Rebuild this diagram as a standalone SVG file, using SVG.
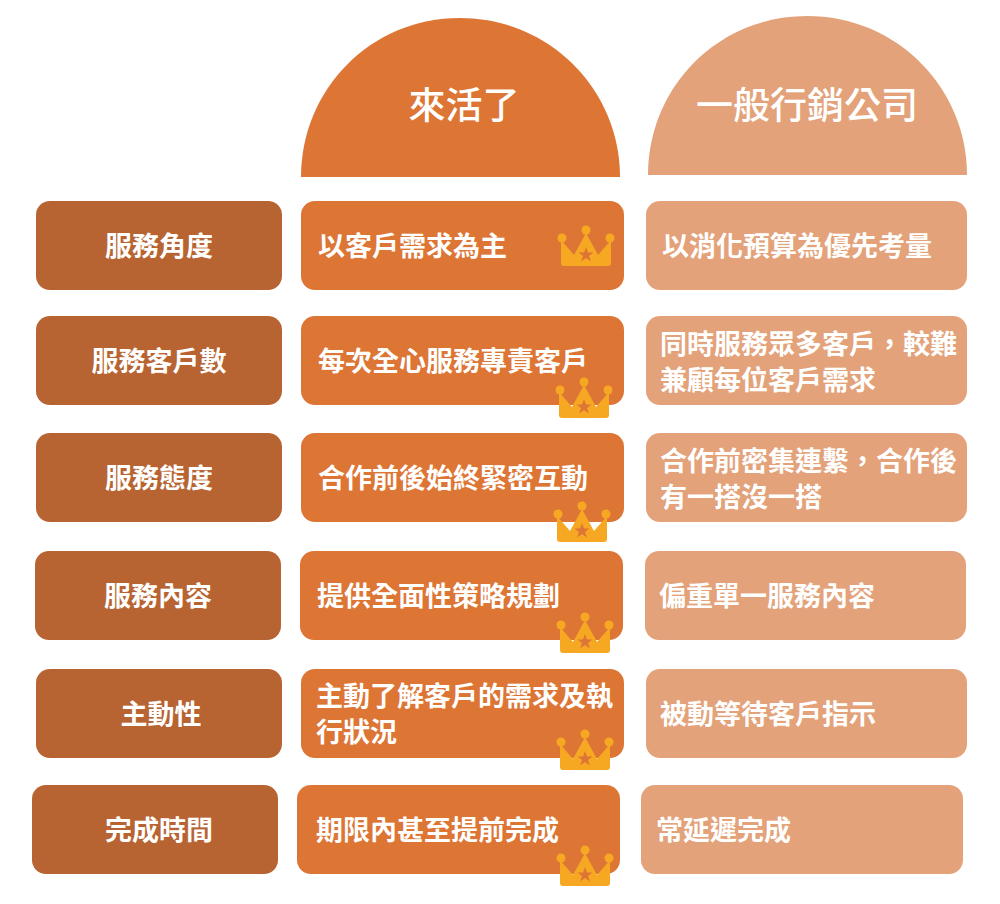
<svg xmlns="http://www.w3.org/2000/svg" xmlns:xlink="http://www.w3.org/1999/xlink" width="1000" height="904" viewBox="0 0 1000 904">
<style>
text{font-family:"Noto Sans CJK TC","Noto Sans CJK SC",sans-serif;fill:#fff;font-size:27px;font-weight:bold}
.lab{fill:#B76432}.mid{fill:#DD7535}.rt{fill:#E3A27A}
.c{text-anchor:middle}
.h{font-size:37px;font-weight:500;text-anchor:middle}
</style>
<defs>
<g id="crown">
<circle cx="5" cy="13" r="4.5" fill="#F7A823"/><circle cx="29" cy="5" r="4.5" fill="#F7A823"/><circle cx="53" cy="13" r="4.5" fill="#F7A823"/>
<path d="M4,15 L17,30 L29,8 L41,30 L54,15 L54,38 Q54,41 51,41 L7,41 Q4,41 4,38 Z" fill="#F7A823"/>
<polygon points="29,22 31,27.5 36.5,27.5 32,31 34,36.5 29,33 24,36.5 26,31 21.5,27.5 27,27.5" fill="#DD7535"/>
</g>
</defs>
<g id="header-laihuole"><path d="M301,177 C301,90 370,18 460,18 C550,18 620,90 620,177 Z" class="mid"/><text x="464" y="119" class="h">來活了</text></g>
<g id="header-general"><path d="M648,175 C648,88 717,16 807,16 C897,16 967,88 967,175 Z" class="rt"/><text x="807" y="119" class="h">一般行銷公司</text></g>

<g id="row1">
<rect x="36" y="201" width="246" height="89" rx="14" class="lab"/><text x="159" y="256" class="c">服務角度</text>
<rect x="301" y="201" width="323" height="89" rx="14" class="mid"/><text x="318" y="256">以客戶需求為主</text>
<use xlink:href="#crown" x="557" y="225"/>
<rect x="646" y="201" width="321" height="89" rx="14" class="rt"/><text x="662" y="256">以消化預算為優先考量</text>
</g>
<g id="row2">
<rect x="36" y="316" width="246" height="89" rx="14" class="lab"/><text x="159" y="371" class="c">服務客戶數</text>
<rect x="301" y="316" width="323" height="89" rx="14" class="mid"/><text x="318" y="371">每次全心服務專責客戶</text>
<use xlink:href="#crown" x="555" y="377"/>
<rect x="646" y="316" width="321" height="89" rx="14" class="rt"/><text x="660" y="354">同時服務眾多客戶，較難</text><text x="660" y="390">兼顧每位客戶需求</text>
</g>
<g id="row3">
<rect x="36" y="433" width="246" height="89" rx="14" class="lab"/><text x="159" y="488" class="c">服務態度</text>
<rect x="301" y="433" width="323" height="89" rx="14" class="mid"/><text x="318" y="488">合作前後始終緊密互動</text>
<use xlink:href="#crown" x="553" y="501"/>
<rect x="646" y="433" width="321" height="89" rx="14" class="rt"/><text x="660" y="471">合作前密集連繫，合作後</text><text x="660" y="507">有一搭沒一搭</text>
</g>
<g id="row4">
<rect x="35" y="551" width="246" height="89" rx="14" class="lab"/><text x="158" y="606" class="c">服務內容</text>
<rect x="300" y="551" width="323" height="89" rx="14" class="mid"/><text x="317" y="606">提供全面性策略規劃</text>
<use xlink:href="#crown" x="556" y="612"/>
<rect x="645" y="551" width="321" height="89" rx="14" class="rt"/><text x="659" y="606">偏重單一服務內容</text>
</g>
<g id="row5">
<rect x="36" y="669" width="246" height="89" rx="14" class="lab"/><text x="161" y="724" class="c">主動性</text>
<rect x="301" y="669" width="323" height="89" rx="14" class="mid"/><text x="316" y="706">主動了解客戶的需求及執</text><text x="316" y="742">行狀況</text>
<use xlink:href="#crown" x="556" y="729"/>
<rect x="646" y="669" width="321" height="89" rx="14" class="rt"/><text x="660" y="724">被動等待客戶指示</text>
</g>
<g id="row6">
<rect x="32" y="785" width="246" height="89" rx="14" class="lab"/><text x="159" y="840" class="c">完成時間</text>
<rect x="297" y="785" width="323" height="89" rx="14" class="mid"/><text x="316" y="840">期限內甚至提前完成</text>
<use xlink:href="#crown" x="556" y="845"/>
<rect x="641" y="785" width="322" height="89" rx="14" class="rt"/><text x="656" y="840">常延遲完成</text>
</g>
<g id="connectors"/>
</svg>
